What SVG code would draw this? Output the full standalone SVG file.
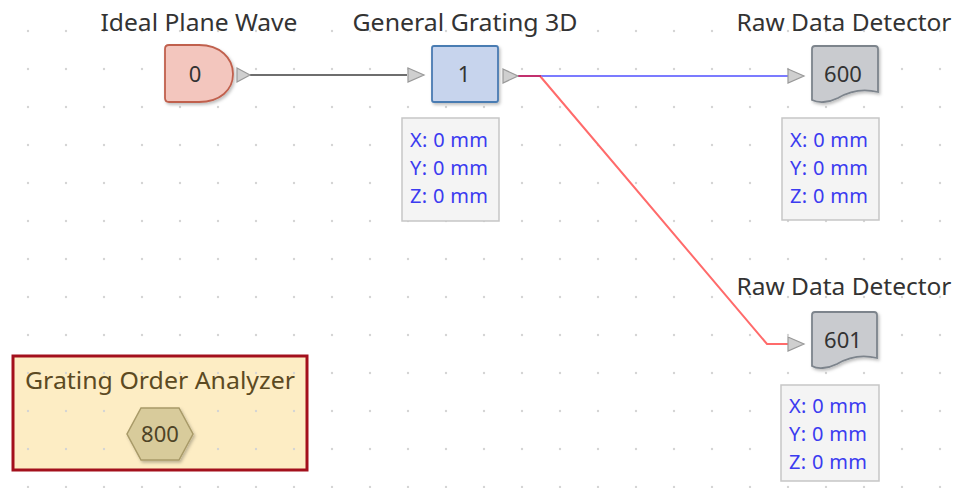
<svg xmlns="http://www.w3.org/2000/svg" width="955" height="488" viewBox="0 0 955 488">
<defs>
<pattern id="grid" patternUnits="userSpaceOnUse" x="9" y="12" width="38" height="38">
<circle cx="19" cy="19" r="1.2" fill="#d4d4d4"/>
</pattern>
<filter id="sh" x="-20%" y="-20%" width="150%" height="150%">
<feDropShadow dx="1.5" dy="2" stdDeviation="1.5" flood-color="#000" flood-opacity="0.25"/>
</filter>
</defs>
<style>
.title{font-family:"Noto Sans","Liberation Sans",sans-serif;font-size:24px;fill:#333;text-anchor:middle}
.num{font-family:"Noto Sans","Liberation Sans",sans-serif;font-size:22px;fill:#333;text-anchor:middle}
.info{font-family:"Noto Sans","Liberation Sans",sans-serif;font-size:20px;fill:#3b3bf0}
.infobox{fill:#f4f4f4;stroke:#c6c6c6;stroke-width:1.5}
.port{fill:#cfcfcf;stroke:#999;stroke-width:1.2}
</style>
<rect width="955" height="488" fill="#fff"/>
<rect width="955" height="488" fill="url(#grid)"/>

<g id="connectors" fill="none" stroke-width="2">
<path d="M250,75 H407" stroke="#6e6e6e"/>
<path d="M540,76 H788" stroke="#7b7bff"/>
<path d="M540,76 L767,344 H788" stroke="#ff6b6b"/>
<path d="M518,76 H541" stroke="#c2306e"/>
</g>

<g id="node-0">
<text class="title" x="199" y="31" textLength="197" lengthAdjust="spacingAndGlyphs">Ideal Plane Wave</text>
<path d="M169,45 H199 C220,45 233,58 233,74 C233,90 220,102 199,102 H169 Q165,102 165,98 V49 Q165,45 169,45 Z" fill="#f3c6be" stroke="#c0614e" stroke-width="1.8" filter="url(#sh)"/>
<text class="num" x="195" y="82">0</text>
<path class="port" d="M237,68 L250,75 L237,82 Z"/>
</g>

<g id="node-1">
<text class="title" x="465" y="31" textLength="225" lengthAdjust="spacingAndGlyphs">General Grating 3D</text>
<path class="port" d="M408,68 L424,75 L408,82 Z"/>
<rect x="432" y="46" width="66" height="56" rx="2" fill="#c7d4ed" stroke="#4a7bb2" stroke-width="1.8" filter="url(#sh)"/>
<text class="num" x="464" y="82">1</text>
<path class="port" d="M503,69 L518,76 L503,83 Z"/>
<rect class="infobox" x="402" y="118" width="97" height="103"/>
<text class="info" x="410" y="147" textLength="78">X: 0 mm</text>
<text class="info" x="410" y="175" textLength="78">Y: 0 mm</text>
<text class="info" x="410" y="203" textLength="78">Z: 0 mm</text>
</g>

<g id="node-600">
<text class="title" x="844" y="31" textLength="215" lengthAdjust="spacingAndGlyphs">Raw Data Detector</text>
<path class="port" d="M788,69 L804,76 L788,83 Z"/>
<path d="M815,46 H875 Q878,46 878,49 V92 C862,88 848,92 838,98 C828,103 818,103 812,100 V49 Q812,46 815,46 Z" fill="#c9cbcf" stroke="#7d848c" stroke-width="1.8" filter="url(#sh)"/>
<text class="num" x="843" y="82">600</text>
<rect class="infobox" x="782" y="118" width="97" height="102"/>
<text class="info" x="790" y="147" textLength="78">X: 0 mm</text>
<text class="info" x="790" y="175" textLength="78">Y: 0 mm</text>
<text class="info" x="790" y="203" textLength="78">Z: 0 mm</text>
</g>

<g id="node-601">
<text class="title" x="844" y="295" textLength="215" lengthAdjust="spacingAndGlyphs">Raw Data Detector</text>
<path class="port" d="M788,337 L804,344 L788,351 Z"/>
<path d="M815,312 H874 Q877,312 877,315 V358 C861,354 847,358 837,364 C827,369 817,369 812,366 V315 Q812,312 815,312 Z" fill="#c9cbcf" stroke="#7d848c" stroke-width="1.8" filter="url(#sh)"/>
<text class="num" x="843" y="348">601</text>
<rect class="infobox" x="781" y="385" width="98" height="96"/>
<text class="info" x="789" y="413" textLength="78">X: 0 mm</text>
<text class="info" x="789" y="441" textLength="78">Y: 0 mm</text>
<text class="info" x="789" y="469" textLength="78">Z: 0 mm</text>
</g>

<g id="node-800">
<rect x="13" y="356" width="294" height="114" fill="#fdedc4" stroke="#a3101c" stroke-width="3"/>
<rect x="15" y="358" width="290" height="110" fill="url(#grid)"/>
<text class="title" x="160" y="389" textLength="270" lengthAdjust="spacingAndGlyphs" style="fill:#5c4a22">Grating Order Analyzer</text>
<path d="M141,408 H179 L193,434 L179,460 H141 L127,434 Z" fill="#d8cb9b" stroke="#a89a68" stroke-width="1.5" filter="url(#sh)"/>
<text class="num" x="160" y="442" style="fill:#4e4326">800</text>
</g>
</svg>
